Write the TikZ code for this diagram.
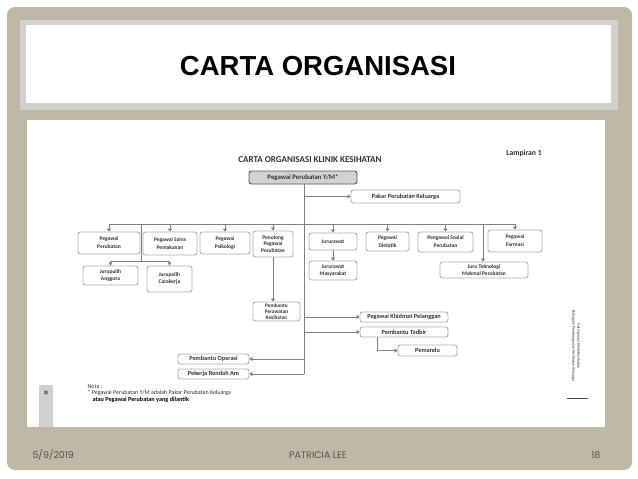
\documentclass[tikz,border=0pt]{standalone}
\usepackage{fontspec}
\setmainfont{Carlito}
\newfontfamily\titlefont{Liberation Sans}
\newfontfamily\footfont{Poppins}
\usetikzlibrary{arrows.meta}
\definecolor{beige}{RGB}{190,185,166}
\definecolor{frame}{RGB}{208,208,204}
\definecolor{lin}{RGB}{128,128,128}
\definecolor{bxline}{RGB}{175,175,175}
\definecolor{txt}{RGB}{50,50,50}
\definecolor{foot}{RGB}{85,85,85}
\begin{document}
\begin{tikzpicture}[x=1pt,y=-1pt,
  box/.style={draw=bxline,line width=0.9pt,rounded corners=2.5pt,fill=white,
    align=center,inner sep=1pt,text=txt,font=\fontsize{5.5}{8}\selectfont\bfseries},
  onebox/.style={box,font=\fontsize{6.3}{7}\selectfont\bfseries},
  topbox/.style={box,draw=black!65,fill=gray!35,font=\fontsize{6.8}{8}\selectfont\bfseries},
  conn/.style={draw=lin,line width=0.9pt},
  arr/.style={conn,-{Triangle[length=3pt,width=4pt]}}]
\useasboundingbox (0,0) rectangle (638,479);
\fill[white] (0,0) rectangle (638,479);
% slide background
\fill[beige,rounded corners=8pt] (7,7) rectangle (632,470);
\fill[frame] (20,20) rectangle (618,110);
\fill[white] (26,25) rectangle (611,103);
\node[font=\titlefont\fontsize{27.5}{30}\selectfont\bfseries] (title) at (318,66) {CARTA ORGANISASI};
\fill[white] (27,120) rectangle (605,427);
\fill[frame] (39,385) rectangle (53,427);
\node[rotate=90,font=\fontsize{5}{6}\selectfont\bfseries,text=txt] (pg) at (46,393) {18};
% footer
\node[font=\footfont\fontsize{9.5}{11}\selectfont,text=foot,anchor=west] (date) at (29,455) {5/9/2019};
\node[font=\footfont\fontsize{9.5}{11}\selectfont,text=foot] (author) at (318,455) {PATRICIA LEE};
\node[font=\footfont\fontsize{9.5}{11}\selectfont,text=foot,anchor=east] (num) at (604,455) {18};
% chart headings
\node[font=\fontsize{9}{10}\selectfont\bfseries,text=txt] (ctitle) at (310,160) {CARTA ORGANISASI KLINIK KESIHATAN};
\node[font=\fontsize{7.7}{9}\selectfont\bfseries,text=txt] (lamp) at (524,153) {Lampiran 1};
% boxes
\node[topbox,minimum width=108pt,minimum height=13pt] (top) at (303,177.5) {Pegawai Perubatan Y/M*};
\node[onebox,minimum width=109pt,minimum height=13pt] (pakar) at (405.5,196.5) {Pakar Perubatan Keluarga};
\node[box,minimum width=62pt,minimum height=22pt] (pp) at (109,243) {Pegawai\\Perubatan};
\node[box,minimum width=54pt,minimum height=23pt] (psp) at (170,243.5) {Pegawai Sains\\Pemakanan};
\node[box,minimum width=50pt,minimum height=22pt] (psi) at (225,243) {Pegawai\\Psikologi};
\node[box,minimum width=40pt,minimum height=26pt,font=\fontsize{5.5}{6.2}\selectfont\bfseries] (ppp) at (273,244) {Penolong\\Pegawai\\Perubatan};
\node[box,minimum width=48pt,minimum height=17pt] (jr) at (333,241.5) {Jururawat};
\node[box,minimum width=43pt,minimum height=19pt] (pd) at (387.5,241.5) {Pegawai\\Dietetik};
\node[box,minimum width=55pt,minimum height=20pt] (psop) at (445.5,242) {Pengawai Sosial\\Perubatan};
\node[box,minimum width=54pt,minimum height=22pt] (pf) at (515,241) {Pegawai\\Farmasi};
\node[box,minimum width=88pt,minimum height=16pt,font=\fontsize{5.5}{6.2}\selectfont\bfseries] (jtm) at (484,270) {Juru Teknologi\\Makmal Perubatan};
\node[box,minimum width=48pt,minimum height=19pt,font=\fontsize{5.5}{6.5}\selectfont\bfseries] (jm) at (333,270.5) {Jururawat\\Masyarakat};
\node[box,minimum width=55pt,minimum height=19pt,font=\fontsize{5.5}{7}\selectfont\bfseries] (ja) at (110.5,275.5) {Jurupulih\\Anggota};
\node[box,minimum width=45pt,minimum height=26pt,font=\fontsize{5.5}{7}\selectfont\bfseries] (jc) at (169.5,279) {Jurupulih\\Carakerja};
\node[box,minimum width=47pt,minimum height=19pt,font=\fontsize{5.3}{5.9}\selectfont\bfseries] (ppk) at (276.5,311.5) {Pembantu\\Perawatan\\Kesihatan};
\node[onebox,minimum width=88pt,minimum height=10pt] (pkp) at (404,317) {Pegawai Khidmat Pelanggan};
\node[onebox,minimum width=88pt,minimum height=10pt] (pt) at (404,332) {Pembantu Tadbir};
\node[onebox,minimum width=59pt,minimum height=11pt] (pm) at (427.5,350.5) {Pemandu};
\node[onebox,minimum width=71pt,minimum height=10pt] (po) at (213.5,359) {Pembantu Operasi};
\node[onebox,minimum width=71pt,minimum height=10pt] (pra) at (213.5,374) {Pekerja Rendah Am};
% connector points
\coordinate (bend) at (304,374);
\coordinate (busL) at (109,224);
\coordinate (busR) at (515,224);
\coordinate (subT) at (141,224);
\coordinate (subB) at (141,261);
\coordinate (jtmT) at (483,224);
\coordinate (pk) at (304,196.5);
% connectors
\draw[conn] (top.south -| bend) -- (bend);
\draw[arr] (pk) -- (pakar.west);
\draw[conn] (busL) -- (busR);
\foreach \n in {pp,psp,psi,ppp,jr,pd,psop,pf}
  \draw[arr] (\n.north |- busL) -- (\n.north);
\draw[arr] (jtmT) -- (jtmT |- jtm.north);
\draw[arr] (jr.south) -- (jm.north);
\draw[conn] (subT) -- (subB);
\draw[conn] (subB -| ja.north) -- (subB -| jc.north);
\draw[arr] (subB -| ja.north) -- (ja.north);
\draw[arr] (subB -| jc.north) -- (jc.north);
\draw[arr] (ppp.south) -- (ppp.south |- ppk.north);
\draw[arr] (bend |- pkp.west) -- (pkp.west);
\draw[arr] (bend |- pt.west) -- (pt.west);
\draw[arr] (pt.south -| 377,0) |- (pm.west);
\draw[arr] (bend |- po.east) -- (po.east);
\draw[arr] (bend) -- (pra.east);
% notes
\node[anchor=west,font=\fontsize{6}{7}\selectfont,text=txt] (nota) at (84,387) {Nota :};
\node[anchor=west,font=\fontsize{6}{7}\selectfont,text=txt] (note1) at (84,393) {* Pegawai Perubatan Y/M adalah Pakar Perubatan Keluarga};
\node[anchor=west,font=\fontsize{6.2}{7}\selectfont\bfseries,text=black] (note2) at (89,399.5) {atau Pegawai Perubatan yang dilantik};
% side text
\node[rotate=-90,font=\fontsize{4}{5}\selectfont,text=txt,align=center] (side) at (576,346) {Fail Operasi Klinik Kesihatan\\Bahagian Pembangunan Kesihatan Keluarga};
\coordinate (rl1) at (567,398);
\coordinate (rl2) at (588,398);
\draw[black!70,line width=0.6pt] (rl1) -- (rl2);
\end{tikzpicture}
\end{document}
